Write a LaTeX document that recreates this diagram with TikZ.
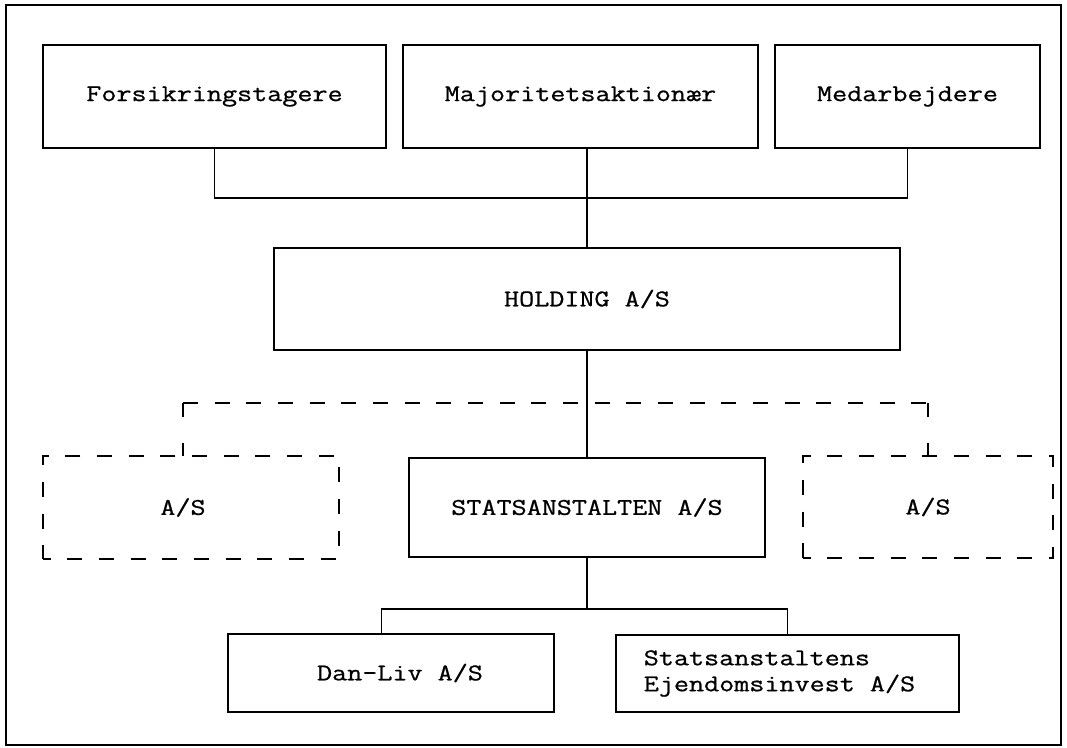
\documentclass[tikz,border=0pt]{standalone}
\usepackage{fontspec}
\newfontfamily\typefont[FakeStretch=1.22,FakeBold=0.8]{lmmono12-regular.otf}

\begin{document}
\begin{tikzpicture}[x=0.75pt,y=-0.75pt,
    orgbox/.style={draw,line width=1.1pt,inner sep=0pt,outer sep=0pt,
      font=\typefont\fontsize{18}{19.5}\selectfont},
    asbox/.style={orgbox,dash pattern=on 11.25pt off 12.5pt,dash phase=5.6pt},
    busline/.style={line width=1pt,dash pattern=on 11.25pt off 12.5pt},
    dropline/.style={line width=1pt,dash pattern=on 10.5pt off 19.5pt}]
  \useasboundingbox (0,0) rectangle (1067,748);
  \draw[line width=0.9pt] (6,5) rectangle (1061,745);

  \node[orgbox,minimum width=257.25pt,minimum height=77.25pt] (forsik) at (214.5,96.5) {Forsikringstagere};
  \node[orgbox,minimum width=266.25pt,minimum height=77.25pt] (major) at (580.5,96.5) {Majoritetsaktionær};
  \node[orgbox,minimum width=198.75pt,minimum height=77.25pt] (medarb) at (907.5,96.5) {Medarbejdere};
  \node[orgbox,minimum width=469.5pt,minimum height=76.5pt] (holding) at (587,299) {HOLDING A/S};
  \node[orgbox,minimum width=267pt,minimum height=74.25pt] (stats) at (587,507.5) {STATSANSTALTEN A/S};
  \node[asbox,minimum width=222pt,minimum height=77.25pt] (leftas) at (191,507.5) {\hspace*{-12pt}A/S};
  \node[asbox,minimum width=187.5pt,minimum height=76.5pt] (rightas) at (928,507) {A/S};
  \node[orgbox,minimum width=244.5pt,minimum height=58.5pt] (danliv) at (391,673) {\hspace*{13.5pt}\raisebox{-10.5pt}{Dan-Liv A/S}};
  \node[orgbox,minimum width=257.25pt,minimum height=57.75pt,align=left] (ejendom) at (787.5,673.5) {Statsanstaltens\\Ejendomsinvest A/S\hspace*{12pt}};

  \coordinate (topbus) at (0,198);
  \coordinate (busL) at (183,403);
  \coordinate (busR) at (928,403);
  \coordinate (lowbus) at (0,609);

  \draw[line width=1pt] (forsik.south) |- (topbus -| medarb.south) -- (medarb.south);
  \draw[line width=1pt] (holding.north |- major.south) -- (holding.north);
  \draw[line width=1pt] (holding.south) -- (stats.north);
  \draw[busline] (busL) -- (busR);
  \draw[dropline] (busL) -- (busL |- leftas.north);
  \draw[dropline] (busR) -- (busR |- rightas.north);
  \draw[line width=1pt] (stats.south) -- (stats.south |- lowbus);
  \draw[line width=1pt] ([xshift=-7pt]danliv.north) |- (lowbus -| ejendom.north) -- (ejendom.north);
\end{tikzpicture}
\end{document}
